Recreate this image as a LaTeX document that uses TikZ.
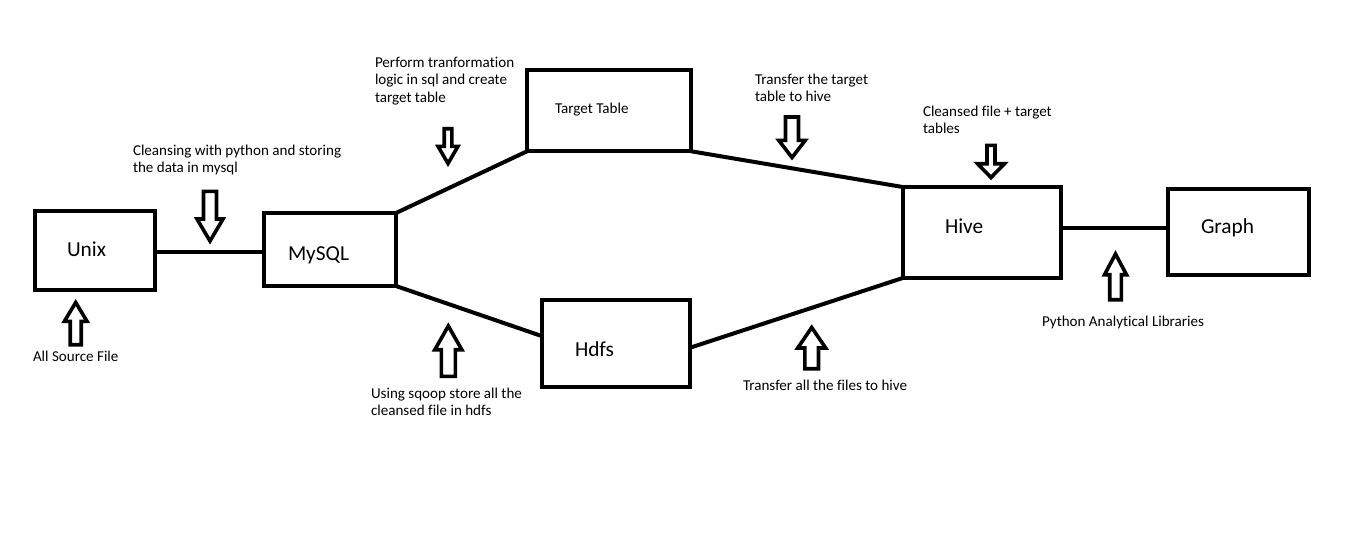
\documentclass[tikz,border=0pt]{standalone}
\usepackage{fontspec}
\setmainfont[Ligatures=NoCommon]{Carlito}
\usetikzlibrary{calc,fit}
\newcommand\blkarrow[6]{%
  \draw[arrowline] ({#1-#6},#2) -- ({#1-#6},#3) -- ({#1-#5},#3) -- (#1,#4)
    -- ({#1+#5},#3) -- ({#1+#6},#3) -- ({#1+#6},#2) -- cycle;}
\begin{document}
\begin{tikzpicture}[x=0.75pt,y=-0.75pt,
  box/.style={draw,line width=3pt,inner sep=0pt,outer sep=0pt},
  conn/.style={line width=3pt},
  arrowline/.style={line width=2.7pt,line join=miter},
  lbl/.style={inner sep=0pt,outer sep=0pt,anchor=base west,align=left,font=\fontsize{11.3}{13.1}\selectfont},
  big/.style={inner sep=0pt,outer sep=0pt,anchor=base west,font=\fontsize{16}{19}\selectfont}]
\useasboundingbox[fill=white] (0,0) rectangle (1360,557);
% boxes
\node[box,fit={(35.3,210.5) (154.7,289.5)}] (unix) {};
\node[box,fit={(263.7,213) (396,286)}] (mysql) {};
\node[box,fit={(527,70.3) (691.3,151.3)}] (target) {};
\node[box,fit={(542,300.3) (690.3,387)}] (hdfs) {};
\node[box,fit={(902.7,187) (1061.3,278)}] (hive) {};
\node[box,fit={(1168,188.7) (1308.7,274.7)}] (graph) {};
% box texts
\node[big] (tunix) at (67,256) {Unix};
\node[big] (tmysql) at (288,260) {MySQL};
\node[lbl] (ttarget) at (555,113) {Target Table};
\node[big] (thdfs) at (575,356) {Hdfs};
\node[big] (thive) at (945,233) {Hive};
\node[big] (tgraph) at (1201,233) {Graph};
% connectors
\draw[conn] ($(unix.east)+(0,2)$) -- ($(mysql.west)+(0,2.5)$);
\draw[conn] (mysql.north east) -- (target.south west);
\draw[conn] (mysql.south east) -- ($(hdfs.west)+(0,-7.5)$);
\draw[conn] (target.south east) -- (hive.north west);
\draw[conn] ($(hdfs.east)+(0,4)$) -- (hive.south west);
\draw[conn] ($(hive.east)+(0,-4.5)$) -- ($(graph.west)+(0,-3.7)$);
% block arrows
\blkarrow{75.7}{344.7}{321.3}{302.5}{11.3}{5.5}
\blkarrow{210}{191.3}{219}{241}{13}{6.5}
\blkarrow{448}{128.7}{146.3}{163.5}{10}{3.8}
\blkarrow{448.3}{376.3}{349.7}{326}{13.5}{7}
\blkarrow{792}{117}{140.3}{157.5}{13.3}{6.5}
\blkarrow{811.7}{368.7}{348}{327.5}{14}{6.8}
\blkarrow{991}{145.3}{163.7}{177.5}{13.5}{4}
\blkarrow{1115.5}{299.7}{274.7}{254}{11}{5.8}
% labels (base anchor = baseline of last line)
\node[lbl] (l1) at (33,361) {All Source File};
\node[lbl] (l2) at (133,172.5) {Cleansing with python and storing\\the data in mysql};
\node[lbl] (l3) at (375,102) {Perform tranformation\\logic in sql and create\\target table};
\node[lbl] (l4) at (371,415.5) {Using sqoop store all the\\cleansed file in hdfs};
\node[lbl] (l5) at (755,101.5) {Transfer the target\\table to hive};
\node[lbl] (l6) at (743,390) {Transfer all the files to hive};
\node[lbl] (l7) at (923,133.5) {Cleansed file + target\\tables};
\node[lbl] (l8) at (1042,326) {Python Analytical Libraries};
\end{tikzpicture}
\end{document}
